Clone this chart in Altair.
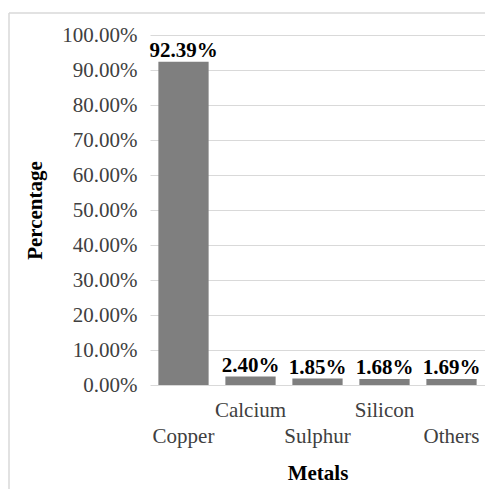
import altair as alt
import pandas as pd

categories = ["Copper", "Calcium", "Sulphur", "Silicon", "Others"]
values = [92.39, 2.40, 1.85, 1.68, 1.69]
y_ticks = [0, 10, 20, 30, 40, 50, 60, 70, 80, 90, 100]
upper_row = categories[1::2]

df = pd.DataFrame({"Metal": categories, "Pct": values})

FONT = "Liberation Serif"
upper_list = "[" + ",".join("'" + c + "'" for c in upper_row) + "]"

x_enc = alt.X(
    "Metal:N",
    sort=categories,
    scale=alt.Scale(paddingInner=0.25, paddingOuter=0.125),
    axis=alt.Axis(
        title="Metals",
        labelAngle=0,
        labelExpr=f"indexof({upper_list}, datum.value) >= 0 ? datum.label : ['', datum.label]",
        labelFont=FONT,
        labelFontSize=21,
        labelColor="#404040",
        labelLineHeight=26,
        labelBaseline="top",
        labelPadding=14,
        labelOverlap=False,
        labelBound=False,
        labelFlush=False,
        ticks=False,
        domain=False,
        grid=False,
        titleY=88,
        titleBaseline="middle",
    ),
)

y_enc = alt.Y(
    "Pct:Q",
    scale=alt.Scale(domain=[0, 100], nice=False),
    axis=alt.Axis(
        title="Percentage",
        values=y_ticks,
        labelExpr="format(datum.value, '.2f') + '%'",
        labelFont=FONT,
        labelFontSize=21,
        labelColor="#404040",
        labelOverlap=False,
        ticks=False,
        domain=False,
        labelPadding=13,
        titleX=-115,
        titleY=175,
        titleAngle=270,
        titleBaseline="middle",
    ),
)

bars = alt.Chart(df).mark_bar(color="#7f7f7f").encode(x=x_enc, y=y_enc)

labels = (
    alt.Chart(df)
    .transform_calculate(lbl="format(datum.Pct, '.2f') + '%'")
    .mark_text(
        font=FONT, fontSize=21, fontWeight="bold", color="#000000",
        baseline="bottom", dy=-1,
    )
    .encode(x=x_enc, y=y_enc, text="lbl:N")
)

frame_left = alt.Chart(df.head(1)).mark_rule(color="#d9d9d9", strokeWidth=1.5).encode(
    x=alt.value(-141), y=alt.value(-22), y2=alt.value(470)
)
frame_top = alt.Chart(df.head(1)).mark_rule(color="#d9d9d9", strokeWidth=1.5).encode(
    x=alt.value(-141), x2=alt.value(340), y=alt.value(-22)
)

chart = (
    alt.layer(frame_left, frame_top, bars, labels)
    .properties(
        width=335,
        height=350,
        autosize=alt.AutoSizeParams(type="none"),
        padding={"left": 142, "top": 27, "right": 0, "bottom": 104},
        background="white",
    )
    .configure_view(stroke=None)
    .configure_axis(
        labelFont=FONT,
        labelFontSize=21,
        labelColor="#404040",
        titleFont=FONT,
        titleFontSize=21,
        titleFontWeight="bold",
        titleColor="#000000",
        gridColor="#d9d9d9",
        gridWidth=1,
    )
)

chart.save("out.html", embed_options={"renderer": "svg", "actions": False})
